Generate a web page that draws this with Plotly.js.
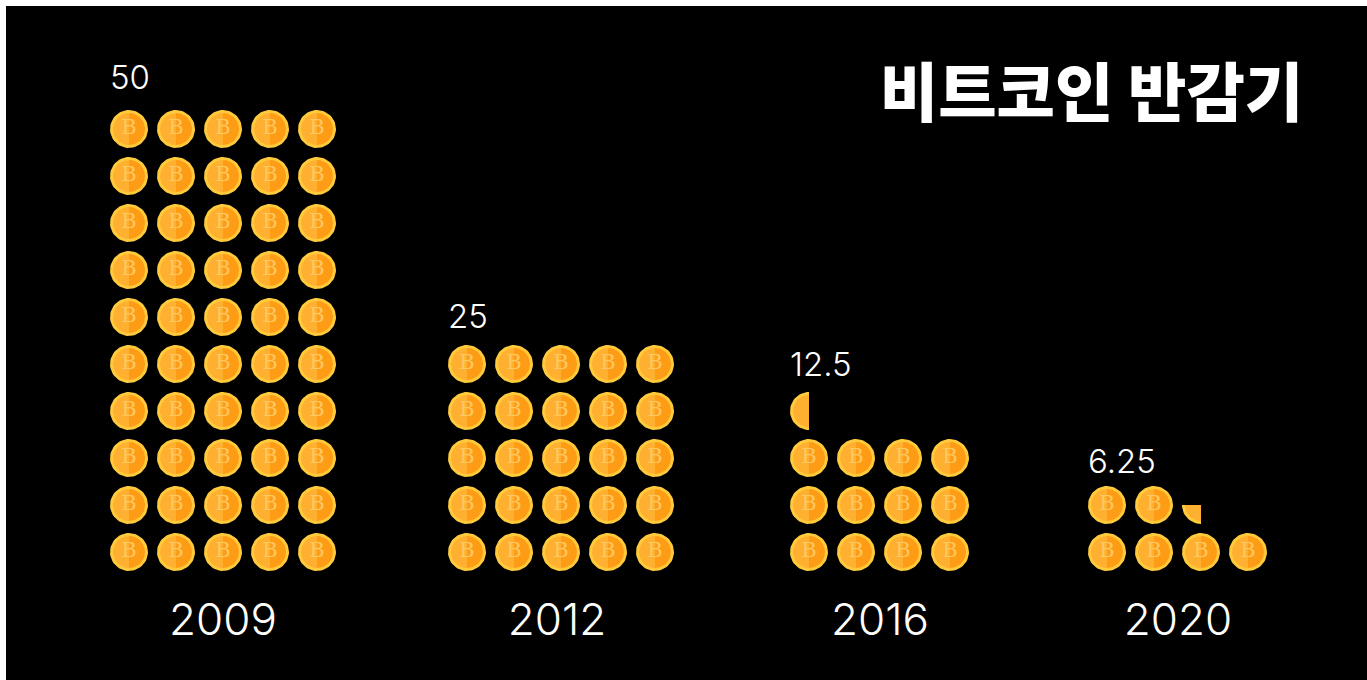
<!DOCTYPE html>
<html><head><meta charset="utf-8">
<script src="https://cdn.plot.ly/plotly-3.0.1.min.js"></script>
<style>html,body{margin:0;padding:0;background:#fff}</style></head>
<body><div id="chart"></div>
<script>
const years = ['2009','2012','2016','2020'];
const rewards = [50,25,12.5,6.25];
const rewardLabels = ['50','25','12.5','6.25'];
const coinsPerRow = [5,5,4,4];

// layout of the pictogram (axis units equal screen pixels)
const groupLeft = [129,467,809,1107];
const yearCenter = [223,557,880,1178];
const labelGap = [48,44,43,40];
const yearRow = 624;
const baseRow = 552, pitch = 47, R = 19, RI = 16;

function arc(cx,cy,r,a0,a1,wedge){
  const xs=[],ys=[];
  if(wedge){xs.push(cx);ys.push(cy);}
  for(let a=a0;a<=a1+1e-6;a+=6){
    xs.push(cx+r*Math.cos(a*Math.PI/180));
    ys.push(cy-r*Math.sin(a*Math.PI/180));
  }
  xs.push(xs[0],null);ys.push(ys[0],null);
  return [xs,ys];
}
const rim={x:[],y:[]},left={x:[],y:[]},right={x:[],y:[]},glyph={x:[],y:[],text:[]};
const labX=[],labY=[],yrY=[];
function add(t,p){t.x.push(...p[0]);t.y.push(...p[1]);}
rewards.forEach((v,g)=>{
  const n=coinsPerRow[g];
  const whole=Math.floor(v), frac=v-whole;
  const total=whole+(frac>0?1:0);
  let topY=baseRow;
  for(let i=0;i<total;i++){
    const cx=groupLeft[g]+(i%n)*pitch, cy=baseRow-Math.floor(i/n)*pitch;
    topY=cy;
    const f=(i<whole)?1:frac;
    if(f===1){
      add(rim,arc(cx,cy,R,0,360));
      add(left,arc(cx,cy,RI,90,270));
      add(right,arc(cx,cy,RI,-90,90));
      glyph.x.push(cx);glyph.y.push(cy);glyph.text.push('B');
    } else {
      const a0=f===0.5?90:180;
      add(rim,arc(cx,cy,R,a0,270,true));
      add(left,arc(cx,cy,RI,a0,270,true));
    }
  }
  labX.push(groupLeft[g]-19);labY.push(topY-labelGap[g]);
  yrY.push(yearRow);
});
const fillTrace=(t,c)=>({type:'scatter',mode:'lines',x:t.x,y:t.y,fill:'toself',fillcolor:c,line:{width:0,color:c},hoverinfo:'skip',showlegend:false,connectgaps:false});
const data=[
  fillTrace(rim,'#FFCB3C'),
  fillTrace(left,'#FFB030'),
  fillTrace(right,'#FF9C16'),
  {type:'scatter',mode:'text',x:glyph.x,y:glyph.y,text:glyph.text,textposition:'middle center',
   textfont:{family:'DejaVu Serif',size:21,color:'#FFC860'},hoverinfo:'skip',showlegend:false},
  {type:'scatter',mode:'text',x:labX,y:labY,text:rewardLabels,textposition:'middle right',
   textfont:{family:'Inter',size:33,color:'#fff',weight:300},hoverinfo:'skip',showlegend:false},
  {type:'scatter',mode:'text',x:yearCenter,y:yrY,text:years,textposition:'middle center',
   textfont:{family:'Inter',size:44,color:'#fff',weight:300},hoverinfo:'skip',showlegend:false}
];
const layout={
  width:1367,height:680,autosize:false,
  margin:{l:6,t:6,r:0,b:0,pad:0},
  paper_bgcolor:'#fff',plot_bgcolor:'#000',showlegend:false,
  title:{text:'비트코인 반감기',x:1303/1367,xref:'paper',xanchor:'right',y:1-94/680,yanchor:'middle',
    font:{family:'Noto Sans CJK KR',size:63.5,color:'#fff',weight:900}},
  xaxis:{range:[6,1367],visible:false,fixedrange:true},
  yaxis:{range:[680,6],visible:false,fixedrange:true}
};
Plotly.newPlot('chart',data,layout,{displayModeBar:false,staticPlot:true});
</script></body></html>
